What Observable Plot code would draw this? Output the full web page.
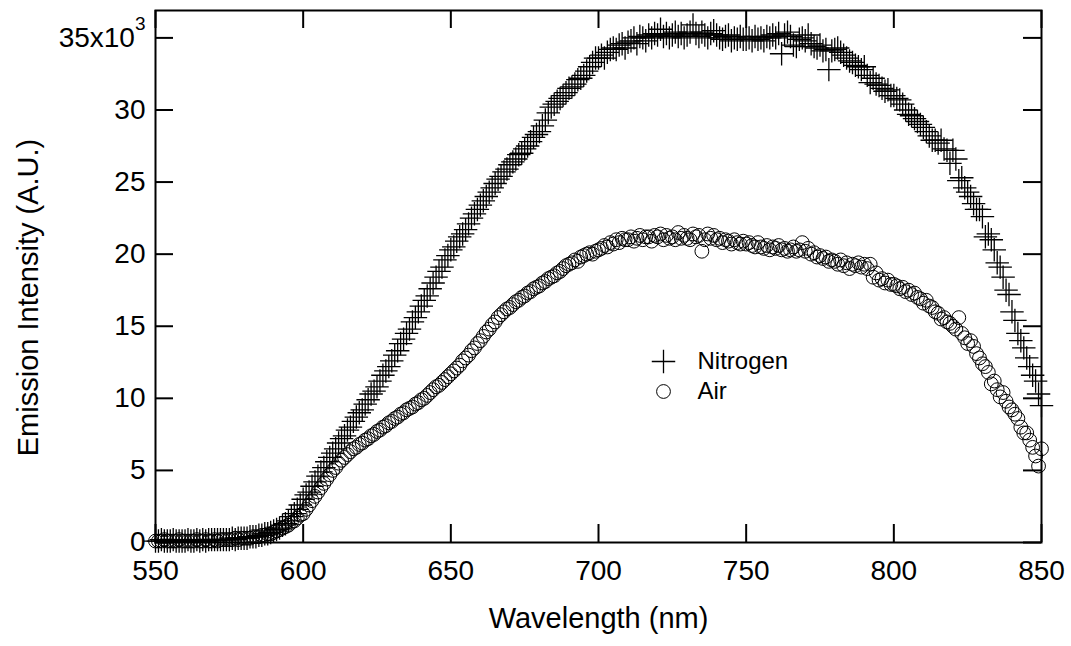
<!DOCTYPE html>
<html>
<head>
<meta charset="utf-8">
<script src="https://cdn.jsdelivr.net/npm/d3@7"></script>
<script src="https://cdn.jsdelivr.net/npm/@observablehq/plot@0.6"></script>
<style>
  html, body { margin: 0; padding: 0; background: #fff; }
  #chart { width: 1071px; height: 646px; }
</style>
</head>
<body>
<div id="chart"></div>
<script>
// ---- Data (emission intensity, in units of 10^3 A.U.), 1 nm steps from 550 nm ----
const wavelengthStart = 550;
const wavelengthStep = 1;

const nitrogen = [
  0.1,0.1,0.2,0.1,0.1,0.1,0.2,0.1,0.1,0.1,
  0.1,0.2,0.1,0.1,0.2,0.1,0.2,0.1,0.2,0.2,
  0.2,0.2,0.2,0.2,0.2,0.2,0.3,0.2,0.3,0.3,
  0.3,0.3,0.4,0.4,0.4,0.5,0.5,0.6,0.6,0.7,
  0.8,0.9,1.0,1.2,1.3,1.5,1.8,2.0,2.3,2.6,
  3.0,3.3,3.5,3.9,4.2,4.6,4.9,5.2,5.6,5.9,
  6.2,6.5,6.9,7.2,7.4,7.8,8.0,8.4,8.7,9.0,
  9.2,9.6,9.9,10.3,10.5,10.8,11.2,11.6,11.9,12.2,
  12.6,13.0,13.3,13.8,14.1,14.5,14.8,15.3,15.6,16.0,
  16.4,16.8,17.1,17.6,18.0,18.4,18.8,19.1,19.6,19.9,
  20.3,20.5,20.9,21.2,21.4,21.7,22.1,22.5,22.8,23.1,
  23.4,23.7,24.0,24.3,24.6,24.9,25.2,25.4,25.7,25.9,
  26.2,26.4,26.6,26.9,27.0,27.3,27.5,27.8,28.1,28.3,
  28.5,28.9,29.3,29.8,30.2,30.4,30.6,30.8,31.0,31.2,
  31.5,31.6,31.8,32.1,32.2,32.4,32.7,33.0,33.3,33.6,
  33.6,33.8,33.6,34.0,34.2,34.3,34.2,34.5,34.6,34.3,
  34.7,34.8,35.0,34.6,35.1,35.0,34.8,35.2,35.0,35.3,
  35.2,35.6,35.1,35.3,35.0,35.2,35.4,35.1,35.3,35.0,
  35.2,35.4,35.9,35.3,35.1,35.4,35.2,35.0,35.3,35.5,
  35.2,35.0,34.9,35.1,35.2,34.8,35.0,34.9,35.1,34.9,
  34.9,35.0,34.8,35.1,34.9,35.0,34.8,35.1,35.0,35.2,
  35.0,35.3,33.9,35.2,35.4,35.1,34.5,34.4,34.9,35.0,
  34.8,35.2,34.6,34.4,34.3,34.5,34.1,34.2,32.8,34.1,
  34.2,34.3,34.0,33.8,33.6,33.4,33.3,33.1,33.0,32.8,
  33.0,32.4,31.9,32.2,31.8,31.7,31.5,31.3,31.4,31.0,
  31.0,30.8,30.7,30.4,30.0,29.7,29.6,29.4,29.2,29.0,
  28.8,28.5,28.2,27.9,27.9,27.7,27.9,27.3,27.2,26.3,
  27.2,26.6,25.1,25.3,24.6,24.3,24.0,23.5,23.1,23.1,
  22.6,21.2,21.4,21.0,20.3,19.4,19.1,18.4,17.5,17.2,
  16.0,15.4,14.5,14.0,13.5,12.8,12.2,11.6,11.2,10.3,
  9.5
];

const air = [
  0.1,0.1,0.1,0.2,0.1,0.1,0.1,0.1,0.2,0.1,
  0.1,0.1,0.1,0.1,0.2,0.1,0.1,0.2,0.1,0.1,
  0.2,0.1,0.2,0.2,0.2,0.2,0.2,0.3,0.2,0.3,
  0.3,0.3,0.3,0.4,0.4,0.4,0.5,0.5,0.6,0.6,
  0.7,0.8,0.9,1.0,1.1,1.2,1.4,1.5,1.7,1.9,
  2.0,2.3,2.6,2.9,3.2,3.5,3.8,4.1,4.4,4.7,
  5.0,5.2,5.5,5.7,5.9,6.1,6.3,6.5,6.6,6.8,
  6.9,7.1,7.2,7.4,7.5,7.7,7.8,8.0,8.1,8.3,
  8.4,8.6,8.7,8.9,9.0,9.2,9.3,9.4,9.6,9.7,
  9.9,10.0,10.2,10.4,10.6,10.8,10.9,11.1,11.3,11.5,
  11.7,11.9,12.1,12.3,12.6,12.8,13.0,13.3,13.5,13.8,
  14.0,14.3,14.6,14.8,15.1,15.3,15.6,15.8,16.0,16.2,
  16.3,16.5,16.7,16.8,17.0,17.1,17.3,17.4,17.6,17.7,
  17.8,18.0,18.1,18.3,18.4,18.5,18.7,18.8,19.0,19.2,
  19.3,19.4,19.6,19.5,19.8,19.9,20.0,20.1,20.0,20.2,
  20.3,20.4,20.6,20.5,20.8,20.7,21.0,20.8,21.1,21.0,
  21.0,21.2,20.9,21.1,21.3,21.0,21.2,21.2,20.9,21.3,
  21.2,21.4,21.0,21.3,21.1,21.2,21.0,21.5,21.1,21.3,
  21.1,21.0,21.4,21.2,21.3,20.2,21.0,21.4,21.1,21.3,
  21.0,21.1,20.8,21.0,20.9,20.7,21.0,20.8,20.7,20.9,
  20.7,20.8,20.6,20.5,20.8,20.5,20.4,20.6,20.3,20.5,
  20.4,20.6,20.3,20.4,20.2,20.3,20.5,20.2,20.3,20.8,
  20.2,20.4,20.0,20.1,19.8,19.9,19.7,19.8,19.5,19.6,
  19.5,19.3,19.6,19.2,19.4,19.0,19.3,19.2,19.4,19.1,
  19.3,19.0,19.3,18.4,18.7,18.2,18.3,18.0,18.2,17.9,
  17.9,17.8,17.6,17.7,17.4,17.5,17.2,17.3,17.0,16.9,
  16.6,16.8,16.4,16.3,16.0,15.9,15.5,15.6,15.3,15.2,
  15.0,14.8,15.6,14.5,14.2,13.8,14.0,13.6,13.1,12.8,
  12.4,12.2,11.8,11.0,11.2,10.6,10.1,10.4,9.8,9.4,
  9.2,8.9,8.6,8.0,7.6,7.6,7.1,6.6,6.0,5.3,
  6.5
];

const xTicks = [550, 600, 650, 700, 750, 800, 850];
const yTicks = [0, 5, 10, 15, 20, 25, 30, 35];
const xTitle = "Wavelength (nm)";
const yTitle = "Emission Intensity (A.U.)";
const legendLabels = ["Nitrogen", "Air"];

// ---- Build tables ----
const toRows = (values) => values.map((v, i) => ({ wl: wavelengthStart + i * wavelengthStep, v }));
const nitrogenRows = toRows(nitrogen);
const airRows = toRows(air);

const W = 1071, H = 646;
const mL = 155, mR = 30, mT = 10, mB = 104;
const innerW = W - mL - mR, innerH = H - mT - mB;
const tickLen = 18;
const font = "'Liberation Sans', Arial, Helvetica, sans-serif";

const chart = Plot.plot({
  width: W,
  height: H,
  marginLeft: mL,
  marginRight: mR,
  marginTop: mT,
  marginBottom: mB,
  style: { fontFamily: font, fontSize: "28px", color: "black", background: "white" },
  x: { domain: [550, 850] },
  y: { domain: [0, 36.9] },
  marks: [
    Plot.dot(airRows, { x: "wl", y: "v", symbol: "circle", r: 6.9, stroke: "black", strokeWidth: 1, fill: "none" }),
    Plot.dot(nitrogenRows, { x: "wl", y: "v", symbol: "plus", r: 7.6, stroke: "black", strokeWidth: 1.3 }),
    Plot.frame({ stroke: "black", strokeWidth: 2 }),
    // inward ticks on all four sides
    Plot.tickX(xTicks, { x: d => d, insetTop: innerH - tickLen, stroke: "black", strokeWidth: 2 }),
    Plot.tickX(xTicks, { x: d => d, insetBottom: innerH - tickLen, stroke: "black", strokeWidth: 2 }),
    Plot.tickY(yTicks, { y: d => d, insetRight: innerW - tickLen, stroke: "black", strokeWidth: 2 }),
    Plot.tickY(yTicks, { y: d => d, insetLeft: innerW - tickLen, stroke: "black", strokeWidth: 2 }),
    Plot.axisX(xTicks, { tickSize: 0, tickPadding: 18, fontSize: 28, label: null }),
    Plot.axisY(yTicks, { tickSize: 0, tickPadding: 10, fontSize: 28, label: null,
      tickFormat: d => d === 35 ? "35x10" : String(d) }),
    Plot.text([xTitle], { frameAnchor: "bottom", textAnchor: "middle", lineAnchor: "middle", dy: 76, fontSize: 29, text: d => d }),
    Plot.text([yTitle], { frameAnchor: "left", textAnchor: "middle", lineAnchor: "middle", rotate: -90, dx: -127, dy: 21, fontSize: 29, text: d => d }),
    // legend
    Plot.dot([legendLabels[0]], { frameAnchor: "top-left", dx: 508, dy: 351, symbol: "plus", r: 7.6, stroke: "black", strokeWidth: 1.3 }),
    Plot.dot([legendLabels[1]], { frameAnchor: "top-left", dx: 508, dy: 381, symbol: "circle", r: 6.9, stroke: "black", strokeWidth: 1, fill: "none" }),
    Plot.text([legendLabels[0]], { frameAnchor: "top-left", dx: 542, dy: 351, textAnchor: "start", lineAnchor: "middle", fontSize: 24, text: d => d }),
    Plot.text([legendLabels[1]], { frameAnchor: "top-left", dx: 542, dy: 381, textAnchor: "start", lineAnchor: "middle", fontSize: 24, text: d => d })
  ]
});

// superscript exponent on the top y tick label
d3.select(chart).selectAll("text").filter(function () { return this.textContent === "35x10"; })
  .append("tspan").attr("dy", -17).attr("font-size", 19).text("3");

document.getElementById("chart").appendChild(chart);
</script>
</body>
</html>
